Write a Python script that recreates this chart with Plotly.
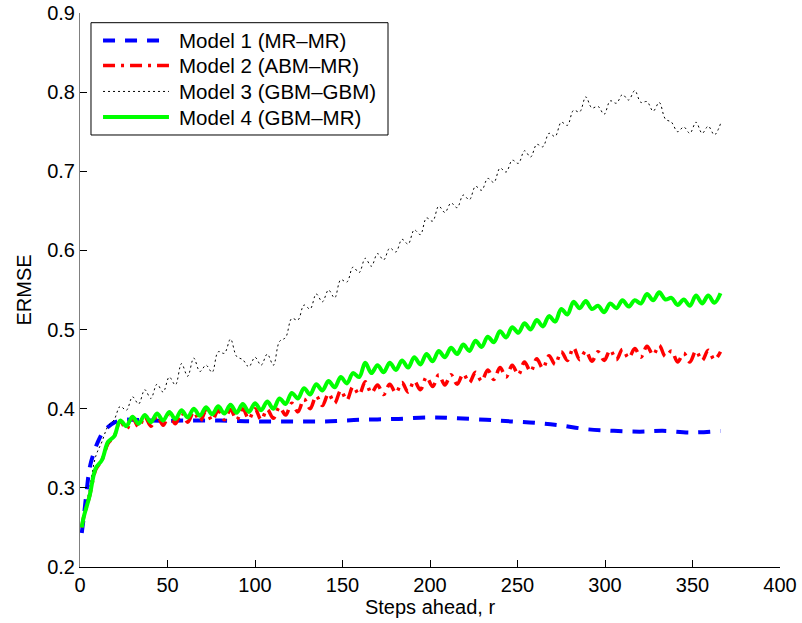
import plotly.graph_objects as go

# ---- data ----
steps_wiggle = [1, 2, 5.5, 9, 12.5, 16, 19.5, 23, 26.5, 30, 33.5, 37, 40.5, 44, 47.5, 51, 54.5, 58, 61.5,
                65, 68.5, 72, 75.5, 79, 82.5, 86, 89.5, 93, 96.5, 100, 103.5, 107, 110.5, 114, 117.5,
                121, 124.5, 128, 131.5, 135, 138.5, 142, 145.5, 149, 152.5, 156, 159.5, 163, 166.5,
                170, 173.5, 177, 180.5, 184, 187.5, 191, 194.5, 198, 201.5, 205, 208.5, 212, 215.5,
                219, 222.5, 226, 229.5, 233, 236.5, 240, 243.5, 247, 250.5, 254, 257.5, 261, 264.5,
                268, 271.5, 275, 278.5, 282, 285.5, 289, 292.5, 296, 299.5, 303, 306.5, 310, 313.5,
                317, 320.5, 324, 327.5, 331, 334.5, 338, 341.5, 345, 348.5, 352, 355.5, 359, 362.5, 366]

model4_gbm_mr = [0.250, 0.262, 0.290, 0.325, 0.335, 0.358, 0.365, 0.385, 0.378, 0.390, 0.381, 0.392, 0.383,
                 0.394, 0.385, 0.396, 0.387, 0.398, 0.389, 0.400, 0.391, 0.402, 0.393, 0.403, 0.394, 0.405,
                 0.395, 0.406, 0.396, 0.407, 0.398, 0.409, 0.400, 0.413, 0.406, 0.420, 0.413, 0.426, 0.418,
                 0.431, 0.423, 0.435, 0.427, 0.440, 0.432, 0.445, 0.440, 0.458, 0.445, 0.455, 0.446, 0.458,
                 0.449, 0.461, 0.452, 0.465, 0.456, 0.469, 0.460, 0.473, 0.465, 0.477, 0.469, 0.481, 0.473,
                 0.486, 0.478, 0.491, 0.484, 0.498, 0.490, 0.503, 0.496, 0.508, 0.500, 0.512, 0.504, 0.517,
                 0.510, 0.526, 0.519, 0.535, 0.527, 0.536, 0.526, 0.530, 0.522, 0.533, 0.527, 0.537, 0.529,
                 0.537, 0.533, 0.545, 0.537, 0.547, 0.538, 0.540, 0.531, 0.538, 0.530, 0.543, 0.533, 0.543,
                 0.534, 0.546]

model2_abm_mr = [0.250, 0.262, 0.290, 0.323, 0.335, 0.356, 0.365, 0.384, 0.374, 0.388, 0.377, 0.390, 0.378,
                 0.391, 0.379, 0.393, 0.381, 0.395, 0.383, 0.396, 0.384, 0.397, 0.385, 0.398, 0.386, 0.399,
                 0.386, 0.400, 0.387, 0.400, 0.386, 0.399, 0.388, 0.402, 0.392, 0.407, 0.396, 0.412, 0.400,
                 0.416, 0.404, 0.419, 0.407, 0.423, 0.411, 0.428, 0.418, 0.434, 0.420, 0.430, 0.418, 0.431,
                 0.420, 0.433, 0.421, 0.435, 0.424, 0.440, 0.428, 0.443, 0.430, 0.443, 0.431, 0.444, 0.433,
                 0.446, 0.435, 0.449, 0.437, 0.452, 0.440, 0.455, 0.443, 0.459, 0.447, 0.463, 0.451, 0.467,
                 0.456, 0.472, 0.461, 0.477, 0.462, 0.473, 0.460, 0.472, 0.461, 0.474, 0.462, 0.475, 0.464,
                 0.476, 0.465, 0.479, 0.468, 0.480, 0.466, 0.473, 0.459, 0.470, 0.459, 0.473, 0.461, 0.474,
                 0.462, 0.472]

model3_gbm_gbm = [0.252, 0.262, 0.300, 0.340, 0.358, 0.378, 0.386, 0.403, 0.398, 0.415, 0.406, 0.424, 0.413,
                  0.431, 0.421, 0.440, 0.430, 0.457, 0.441, 0.464, 0.447, 0.455, 0.446, 0.472, 0.470, 0.488,
                  0.466, 0.462, 0.453, 0.465, 0.455, 0.469, 0.455, 0.485, 0.490, 0.514, 0.512, 0.531, 0.526,
                  0.545, 0.535, 0.550, 0.540, 0.563, 0.560, 0.579, 0.572, 0.590, 0.580, 0.596, 0.588, 0.603,
                  0.598, 0.614, 0.608, 0.626, 0.620, 0.641, 0.637, 0.656, 0.648, 0.660, 0.654, 0.670, 0.664,
                  0.681, 0.676, 0.691, 0.686, 0.704, 0.699, 0.714, 0.710, 0.726, 0.718, 0.734, 0.731, 0.748,
                  0.744, 0.762, 0.758, 0.777, 0.775, 0.794, 0.780, 0.782, 0.772, 0.789, 0.786, 0.797, 0.790,
                  0.802, 0.787, 0.788, 0.776, 0.787, 0.766, 0.762, 0.750, 0.756, 0.748, 0.762, 0.748, 0.757,
                  0.746, 0.760]

steps_smooth = [1, 2, 3, 4, 5, 6, 8, 10, 13, 16, 20, 25, 30, 40, 60, 80, 100, 120, 140, 160, 180, 200,
                215, 232, 246, 261, 274, 290, 305, 320, 333, 349, 366]
model1_mr_mr = [0.243, 0.260, 0.280, 0.300, 0.318, 0.330, 0.345, 0.357, 0.370, 0.377, 0.383, 0.386, 0.386,
                0.385, 0.385, 0.385, 0.384, 0.384, 0.384, 0.386, 0.387, 0.389, 0.388, 0.386, 0.384, 0.382,
                0.379, 0.374, 0.372, 0.371, 0.372, 0.370, 0.372]

series_names = ["Model 1 (MR\u2013MR)", "Model 2 (ABM\u2013MR)", "Model 3 (GBM\u2013GBM)", "Model 4 (GBM\u2013MR)"]
x_ticks = [0, 50, 100, 150, 200, 250, 300, 350, 400]
y_ticks = [0.2, 0.3, 0.4, 0.5, 0.6, 0.7, 0.8, 0.9]

FONT = "Liberation Sans, Arial, Helvetica, sans-serif"

styles = [
    dict(color="#0000ff", width=4, dash="12px,10px"),
    dict(color="#ff0000", width=3.5, dash="12px,6px,3px,6px"),
    dict(color="#000000", width=1, dash="2px,3px"),
    dict(color="#00ff00", width=4, dash="solid"),
]
xs = [steps_smooth, steps_wiggle, steps_wiggle, steps_wiggle]
ys = [model1_mr_mr, model2_abm_mr, model3_gbm_gbm, model4_gbm_mr]

fig = go.Figure()
for name, st, x, y in zip(series_names, styles, xs, ys):
    fig.add_trace(go.Scatter(x=x, y=y, mode="lines", name=name, showlegend=False,
                             line=dict(color=st["color"], width=st["width"], dash=st["dash"],
                                       shape="spline")))

# ---- legend box (MATLAB style, placed in paper coordinates) ----
shapes = [dict(type="rect", xref="paper", yref="paper", x0=0.0157, x1=0.44, y0=0.7798, y1=0.9825,
               line=dict(color="black", width=1), fillcolor="white", layer="above")]
annotations = []
row_y = [0.9505, 0.9053, 0.8584, 0.8121]
for name, st, ry in zip(series_names, styles, row_y):
    shapes.append(dict(type="line", xref="paper", yref="paper", x0=0.0329, x1=0.1271, y0=ry, y1=ry,
                       line=dict(color=st["color"], width=st["width"], dash=st["dash"]), layer="above"))
    annotations.append(dict(xref="paper", yref="paper", x=0.1386, y=ry, xanchor="left", yanchor="middle",
                            text=name, showarrow=False,
                            font=dict(family=FONT, size=20.5, color="black")))

fig.update_layout(
    width=802, height=623,
    margin=dict(l=80, r=22, t=13, b=56),
    paper_bgcolor="white", plot_bgcolor="white",
    font=dict(family=FONT, size=20, color="black"),
    showlegend=False,
    shapes=shapes,
    annotations=annotations,
    xaxis=dict(range=[0, 400], tickvals=x_ticks, ticks="inside", ticklen=7, tickcolor="black",
               showline=True, linecolor="black", linewidth=1, showgrid=False, zeroline=False,
               automargin=False,
               title=dict(text="Steps ahead, r", font=dict(family=FONT, size=20), standoff=4),
               tickfont=dict(family=FONT, size=20)),
    yaxis=dict(range=[0.2, 0.9], tickvals=y_ticks, tickformat=".1f", ticks="inside", ticklen=7,
               tickcolor="black", showline=True, linecolor="#808080", linewidth=1, showgrid=False,
               zeroline=False, automargin=False,
               title=dict(text="ERMSE", font=dict(family=FONT, size=20), standoff=10),
               tickfont=dict(family=FONT, size=20)),
)

fig.write_html("out.html")
